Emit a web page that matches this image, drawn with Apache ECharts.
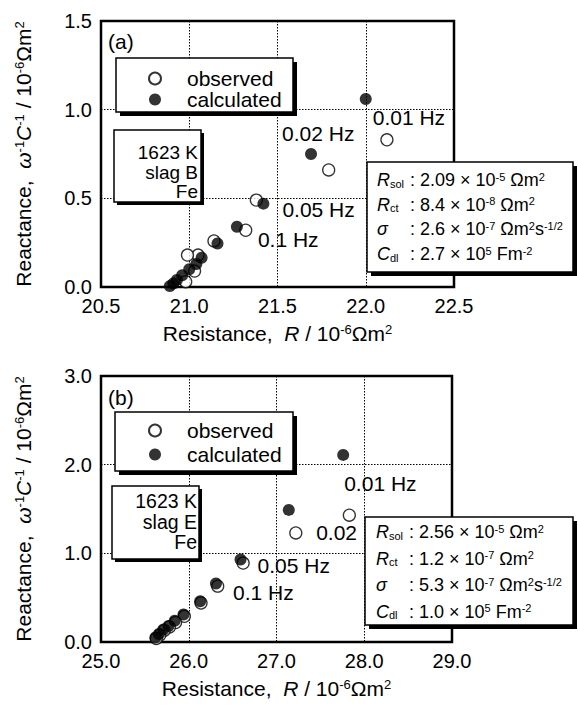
<!DOCTYPE html>
<html>
<head>
<meta charset="utf-8">
<script src="https://cdn.jsdelivr.net/npm/echarts@6/dist/echarts.min.js"></script>
<style>
html, body { margin: 0; padding: 0; background: #fff; }
#chart { width: 578px; height: 707px; }
</style>
</head>
<body>
<div id="chart"></div>
<script>
// panel (a): 1623 K, slag B, Fe  (lowest frequency first)
var obsA_R  = [22.12, 21.79, 21.38, 21.32, 21.14, 21.05, 20.99, 21.03, 20.98];
var obsA_X  = [0.83, 0.66, 0.49, 0.32, 0.26, 0.18, 0.18, 0.09, 0.03];
var calcA_R = [22.00, 21.69, 21.42, 21.27, 21.16, 21.07, 21.04, 21.00, 20.96, 20.93, 20.91, 20.89];
var calcA_X = [1.06, 0.75, 0.47, 0.34, 0.245, 0.165, 0.13, 0.10, 0.066, 0.04, 0.02, 0.005];

// panel (b): 1623 K, slag E, Fe
var obsB_R  = [27.83, 27.22, 26.62, 26.33, 26.14, 25.95, 25.85, 25.78, 25.72, 25.67, 25.63];
var obsB_X  = [1.43, 1.23, 0.89, 0.63, 0.44, 0.29, 0.22, 0.17, 0.13, 0.08, 0.04];
var calcB_R = [27.76, 27.14, 26.59, 26.31, 26.13, 25.94, 25.84, 25.77, 25.71, 25.66, 25.62];
var calcB_X = [2.11, 1.49, 0.93, 0.66, 0.46, 0.31, 0.24, 0.18, 0.14, 0.09, 0.05];

// tick values
var xTicksA = [20.5, 21.0, 21.5, 22.0, 22.5];
var yTicksA = [0.0, 0.5, 1.0, 1.5];
var xTicksB = [25.0, 26.0, 27.0, 28.0, 29.0];
var yTicksB = [0.0, 1.0, 2.0, 3.0];

// frequency labels
var freqA = ['0.01 Hz', '0.02 Hz', '0.05 Hz', '0.1 Hz'];
var freqB = ['0.01 Hz', '0.02', '0.05 Hz', '0.1 Hz'];

// fitted parameters
var symbols = ['{i|R}{sub|sol}', '{i|R}{sub|ct}', '{i|σ}', '{i|C}{sub|dl}'];
var paramsA = [': 2.09 × 10{sup|-5} Ωm{sup|2}', ': 8.4 × 10{sup|-8} Ωm{sup|2}',
               ': 2.6 × 10{sup|-7} Ωm{sup|2}s{sup|-1/2}', ': 2.7 × 10{sup|5} Fm{sup|-2}'];
var paramsB = [': 2.56 × 10{sup|-5} Ωm{sup|2}', ': 1.2 × 10{sup|-7} Ωm{sup|2}',
               ': 5.3 × 10{sup|-7} Ωm{sup|2}s{sup|-1/2}', ': 1.0 × 10{sup|5} Fm{sup|-2}'];
var conditionsA = ['1623 K', 'slag B', 'Fe'];
var conditionsB = ['1623 K', 'slag E', 'Fe'];

var FONT = '"Liberation Sans", Arial, Helvetica, sans-serif';
var rich = {
  i:   { fontStyle: 'italic', fontSize: 21, fontFamily: FONT, color: '#000' },
  sup: { fontSize: 13, verticalAlign: 'top', fontFamily: FONT, color: '#000' },
  sub: { fontSize: 12, verticalAlign: 'bottom', fontFamily: FONT, color: '#000' }
};
var richP = {
  i:   { fontStyle: 'italic', fontSize: 18, fontFamily: FONT, fill: '#000' },
  sup: { fontSize: 11, verticalAlign: 'top', fontFamily: FONT, fill: '#000' },
  sub: { fontSize: 11, verticalAlign: 'bottom', fontFamily: FONT, fill: '#000' }
};

var SYM = 12;

function pts(R, X) {
  return R.map(function (r, i) { return [r, X[i]]; });
}

// attach a frequency label to some points, offsets in px from symbol centre
function labelled(data, which, texts, offs) {
  which.forEach(function (idx, k) {
    data[idx] = {
      value: data[idx],
      label: {
        show: true, formatter: texts[k],
        position: [offs[k][0] + SYM / 2, offs[k][1] + SYM / 2],
        align: 'left', verticalAlign: 'middle', opacity: 1,
        color: '#000', textBorderWidth: 0,
        fontSize: 21, fontFamily: FONT
      }
    };
  });
  return data;
}

function xAxis(gi, ticks) {
  return {
    gridIndex: gi, type: 'value',
    min: ticks[0], max: ticks[ticks.length - 1], interval: ticks[1] - ticks[0],
    axisLine: { show: false }, axisTick: { show: false },
    axisLabel: { margin: 9, fontSize: 20, color: '#000', fontFamily: FONT,
      formatter: function (v) { return v.toFixed(1); } },
    splitLine: { show: true, lineStyle: { type: [1.5, 1.5], color: '#000', width: 1 } },
    name: 'Resistance,  {i|R} / 10{sup|-6}Ωm{sup|2}',
    nameLocation: 'middle', nameGap: 36,
    nameTextStyle: { fontSize: 21, color: '#000', fontFamily: FONT, rich: rich }
  };
}
function yAxis(gi, ticks) {
  return {
    gridIndex: gi, type: 'value',
    min: ticks[0], max: ticks[ticks.length - 1], interval: ticks[1] - ticks[0],
    axisLine: { show: false }, axisTick: { show: false },
    axisLabel: { margin: 9, fontSize: 20, color: '#000', fontFamily: FONT,
      formatter: function (v) { return v.toFixed(1); } },
    splitLine: { show: true, lineStyle: { type: [1.5, 1.5], color: '#000', width: 1 } },
    name: 'Reactance,  {i|ω}{sup|-1}{i|C}{sup|-1} / 10{sup|-6}Ωm{sup|2}',
    nameLocation: 'middle', nameGap: 67, nameRotate: 90,
    nameTextStyle: { fontSize: 21, color: '#000', fontFamily: FONT, rich: rich }
  };
}

function box(x, y, w, h, s) {
  return [
    { type: 'rect', z: 5, shape: { x: x + s, y: y + s, width: w, height: h }, style: { fill: '#000' } },
    { type: 'rect', z: 6, shape: { x: x, y: y, width: w, height: h },
      style: { fill: '#fff', stroke: '#000', lineWidth: 1.5 } }
  ];
}
function txt(x, y, text, opt) {
  return { type: 'text', z: 7, x: x, y: y,
    style: Object.assign({ text: text, fill: '#000', fontSize: 21, fontFamily: FONT,
      verticalAlign: 'middle', align: 'left' }, opt || {}) };
}
function paramLines(x, y0, dy, vals) {
  var out = [];
  vals.forEach(function (v, k) {
    out.push(txt(x, y0 + k * dy, symbols[k], { fontSize: 18, rich: richP }));
    out.push(txt(x + 33, y0 + k * dy, v, { fontSize: 18, rich: richP }));
  });
  return out;
}
function condLines(x, y0, dy, lines, fs) {
  return lines.map(function (s, k) {
    return txt(x, y0 + k * dy, s, { align: 'right', fontSize: fs });
  });
}

var graphics = [].concat(
  box(116, 58, 177, 54, 4),
  box(114, 130, 87, 72, 3),
  box(367, 162, 206, 110, 4),
  box(115, 412, 178, 59, 4),
  box(112, 486, 87, 73, 3),
  box(365, 517, 208, 108, 4),
  [txt(108, 41, '(a)'), txt(108, 397, '(b)')],
  condLines(198, 152.5, 19.5, conditionsA, 19),
  condLines(197, 501, 20.5, conditionsB, 19.5),
  paramLines(377, 180, 24.7, paramsA),
  paramLines(376, 532, 26.5, paramsB)
);

var legendBase = {
  data: ['observed', 'calculated'], orient: 'vertical', left: 148, padding: 0,
  itemWidth: 12, itemHeight: 12, selectedMode: false, z: 10,
  formatter: function (name) { return '{t|' + name + '}'; },
  textStyle: { fontSize: 21, color: '#000', fontFamily: FONT,
    rich: { t: { fontSize: 21, color: '#000', fontFamily: FONT, lineHeight: 19, padding: [0, 0, 0, 21] } } }
};

var obsStyle = { color: '#fff', borderColor: '#000', borderWidth: 1.3 };
var calcStyle = { color: '#000' };

var chart = echarts.init(document.getElementById('chart'), null, { renderer: 'svg' });
chart.setOption({
  animation: false,
  backgroundColor: '#fff',
  grid: [
    { left: 101, top: 21, width: 353, height: 266, show: true, borderColor: '#000', borderWidth: 2.5 },
    { left: 101, top: 376, width: 351, height: 266, show: true, borderColor: '#000', borderWidth: 2.5 }
  ],
  xAxis: [xAxis(0, xTicksA), xAxis(1, xTicksB)],
  yAxis: [yAxis(0, yTicksA), yAxis(1, yTicksB)],
  legend: [
    Object.assign({}, legendBase, { top: 68, itemGap: 0 }),
    Object.assign({}, legendBase, { top: 420, itemGap: 3 })
  ],
  graphic: graphics,
  series: [
    { name: 'observed', type: 'scatter', xAxisIndex: 0, yAxisIndex: 0, symbolSize: SYM,
      itemStyle: obsStyle, emphasis: { disabled: true }, data: pts(obsA_R, obsA_X) },
    { name: 'calculated', type: 'scatter', xAxisIndex: 0, yAxisIndex: 0, symbolSize: SYM,
      itemStyle: calcStyle, emphasis: { disabled: true },
      data: labelled(pts(calcA_R, calcA_X), [0, 1, 2, 3], freqA, [[7, 18], [-29, -21], [19, 6], [21, 13]]) },
    { name: 'observed', type: 'scatter', xAxisIndex: 1, yAxisIndex: 1, symbolSize: SYM,
      itemStyle: obsStyle, emphasis: { disabled: true },
      data: labelled(pts(obsB_R, obsB_X), [1], [freqB[1]], [[21, 0]]) },
    { name: 'calculated', type: 'scatter', xAxisIndex: 1, yAxisIndex: 1, symbolSize: SYM,
      itemStyle: calcStyle, emphasis: { disabled: true },
      data: labelled(pts(calcB_R, calcB_X), [0, 2, 3], [freqB[0], freqB[2], freqB[3]], [[1, 29], [17, 6], [17, 9]]) }
  ]
});
</script>
</body>
</html>
